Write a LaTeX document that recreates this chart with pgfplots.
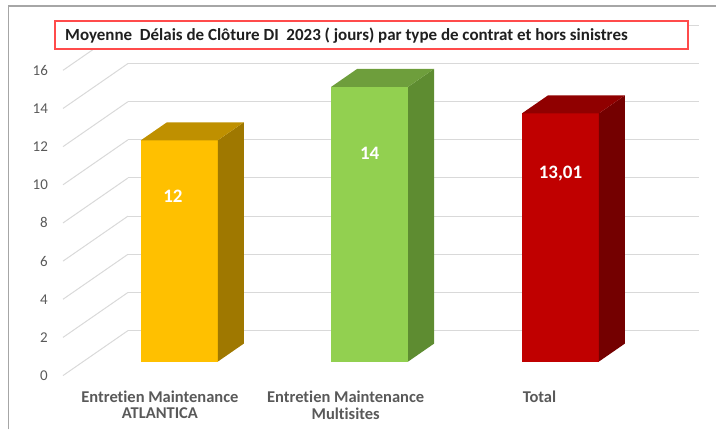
\documentclass[border=0pt]{standalone}
\usepackage{pgfplots}
\pgfplotsset{compat=1.18}
\usepackage{fontspec}
\setmainfont{Carlito}[Ligatures=NoCommon]
\definecolor{gridc}{HTML}{D9D9D9}
\definecolor{txt}{HTML}{595959}
\definecolor{frame}{HTML}{A6A6A6}
\definecolor{boxred}{HTML}{FF4B4B}
\definecolor{aF}{HTML}{FFC000}\definecolor{aT}{HTML}{BF9000}\definecolor{aS}{HTML}{9F7800}
\definecolor{bF}{HTML}{92D050}\definecolor{bT}{HTML}{6E9E3C}\definecolor{bS}{HTML}{5E8C31}
\definecolor{cF}{HTML}{C00000}\definecolor{cT}{HTML}{900000}\definecolor{cS}{HTML}{740000}
\begin{document}
\begin{tikzpicture}
\begin{axis}[
  x=1pt, y=19.1pt,
  xmin=0, xmax=717, ymin=-3.560, ymax=18.953,
  axis line style={draw=none},
  major tick length=0pt,
  xtick=\empty,
  ytick={-0.733,1.267,3.267,5.267,7.267,9.267,11.267,13.267,15.267},
  yticklabels={0,2,4,6,8,10,12,14,16},
  yticklabel style={anchor=east, xshift=48pt, inner sep=0pt, font=\fontsize{15}{18}\selectfont, text=txt},
  clip=false,
]
% frame
\addplot[frame, line width=1.5pt] coordinates {(8.5,-3.56) (8.5,18.639) (717,18.639)};
% back wall gridlines
\addplot[gridc, line width=1pt] coordinates {(128,1.623) (700,1.623)};
\addplot[gridc, line width=1pt] coordinates {(128,3.623) (700,3.623)};
\addplot[gridc, line width=1pt] coordinates {(128,5.623) (700,5.623)};
\addplot[gridc, line width=1pt] coordinates {(128,7.623) (700,7.623)};
\addplot[gridc, line width=1pt] coordinates {(128,9.623) (700,9.623)};
\addplot[gridc, line width=1pt] coordinates {(128,11.623) (700,11.623)};
\addplot[gridc, line width=1pt] coordinates {(128,13.623) (700,13.623)};
\addplot[gridc, line width=1pt] coordinates {(128,15.623) (700,15.623)};
\addplot[gridc, line width=1pt] coordinates {(128,17.623) (700,17.623)};
% side wall diagonals
\addplot[gridc, line width=1pt] coordinates {(63,-0.733) (128,1.623)};
\addplot[gridc, line width=1pt] coordinates {(63,1.267) (128,3.623)};
\addplot[gridc, line width=1pt] coordinates {(63,3.267) (128,5.623)};
\addplot[gridc, line width=1pt] coordinates {(63,5.267) (128,7.623)};
\addplot[gridc, line width=1pt] coordinates {(63,7.267) (128,9.623)};
\addplot[gridc, line width=1pt] coordinates {(63,9.267) (128,11.623)};
\addplot[gridc, line width=1pt] coordinates {(63,11.267) (128,13.623)};
\addplot[gridc, line width=1pt] coordinates {(63,13.267) (128,15.623)};
\addplot[gridc, line width=1pt] coordinates {(63,15.267) (128,17.623)};
% bar 1 : 11.6
\addplot[fill=aF, draw=none] coordinates {(141,0) (218,0) (218,11.6) (141,11.6)} -- cycle;
\addplot[fill=aS, draw=none] coordinates {(218,0) (244,0.942) (244,12.542) (218,11.6)} -- cycle;
\addplot[fill=aT, draw=none] coordinates {(141,11.6) (167,12.542) (244,12.542) (218,11.6)} -- cycle;
% bar 2 : 14.4
\addplot[fill=bF, draw=none] coordinates {(331.5,0) (408.5,0) (408.5,14.4) (331.5,14.4)} -- cycle;
\addplot[fill=bS, draw=none] coordinates {(408.5,0) (434.5,0.942) (434.5,15.342) (408.5,14.4)} -- cycle;
\addplot[fill=bT, draw=none] coordinates {(331.5,14.4) (357.5,15.342) (434.5,15.342) (408.5,14.4)} -- cycle;
% bar 3 : 13.01
\addplot[fill=cF, draw=none] coordinates {(522.5,0) (599.5,0) (599.5,13.01) (522.5,13.01)} -- cycle;
\addplot[fill=cS, draw=none] coordinates {(599.5,0) (625.5,0.942) (625.5,13.952) (599.5,13.01)} -- cycle;
\addplot[fill=cT, draw=none] coordinates {(522.5,13.01) (548.5,13.952) (625.5,13.952) (599.5,13.01)} -- cycle;
% data labels
\node[text=white, font=\bfseries\fontsize{19}{22}\selectfont] at (axis cs:173,8.64) {12};
\node[text=white, font=\bfseries\fontsize{19}{22}\selectfont] at (axis cs:370,10.94) {14};
\node[text=white, font=\bfseries\fontsize{19}{22}\selectfont] at (axis cs:561,9.84) {13,01};
% title box
\addplot[fill=white, draw=boxred, line width=1.8pt] coordinates {(55,16.387) (689,16.387) (689,17.853) (55,17.853)} -- cycle;
\node[anchor=west, inner sep=0pt, text=black!88, font=\bfseries\fontsize{17}{19}\selectfont] at (axis cs:65,17.08) {Moyenne\ \ Délais de Clôture DI\ \ 2023 ( jours) par type de contrat et hors sinistres};
% category labels
\node[text=txt, font=\bfseries\fontsize{16.5}{18}\selectfont] at (axis cs:160,-1.832) {Entretien Maintenance};
\node[text=txt, font=\bfseries\fontsize{16.5}{18}\selectfont] at (axis cs:160,-2.723) {ATLANTICA};
\node[text=txt, font=\bfseries\fontsize{16.5}{18}\selectfont] at (axis cs:346,-1.832) {Entretien Maintenance};
\node[text=txt, font=\bfseries\fontsize{16.5}{18}\selectfont] at (axis cs:346,-2.723) {Multisites};
\node[text=txt, font=\bfseries\fontsize{16.5}{18}\selectfont] at (axis cs:540,-1.832) {Total};
\end{axis}
\end{tikzpicture}
\end{document}
